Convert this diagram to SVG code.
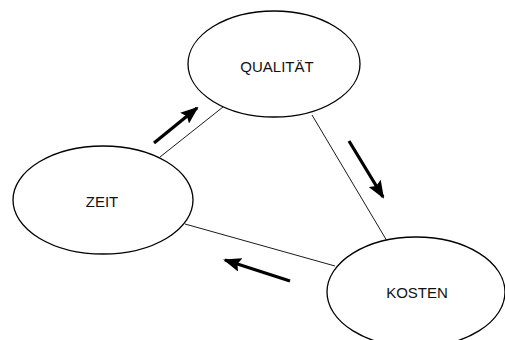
<svg xmlns="http://www.w3.org/2000/svg" width="505" height="340" viewBox="0 0 505 340">
<style>
.node{fill:#fff;stroke:#000;stroke-width:1.3}
.lbl{font-family:"Liberation Sans",Arial,sans-serif;font-size:15px;fill:#111;text-anchor:middle}
.edge{stroke:#000;stroke-width:0.9;fill:none}
.arr{stroke:#000;stroke-width:3.2;fill:none}
</style>
<defs>
<marker id="ah" markerUnits="userSpaceOnUse" markerWidth="18" markerHeight="14" refX="16" refY="7" orient="auto" viewBox="0 0 18 14">
<polygon points="0,0 18,7 0,14 3,7" fill="#000"/>
</marker>
</defs>
<rect width="505" height="340" fill="#fff"/>
<g id="connectors">
<line class="edge" x1="160" y1="157" x2="223" y2="107"/>
<line class="edge" x1="312" y1="115" x2="387" y2="241"/>
<line class="edge" x1="185" y1="224" x2="335" y2="266"/>
<line class="arr" x1="154" y1="143" x2="197" y2="108" marker-end="url(#ah)"/>
<line class="arr" x1="349" y1="141" x2="383" y2="197" marker-end="url(#ah)"/>
<line class="arr" x1="290" y1="281" x2="225" y2="260" marker-end="url(#ah)"/>
</g>
<g id="qualitaet">
<ellipse class="node" cx="274" cy="64" rx="86" ry="53"/>
<text class="lbl" x="277" y="72">QUALITÄT</text>
</g>
<g id="zeit">
<ellipse class="node" cx="103" cy="200" rx="90" ry="54"/>
<text class="lbl" x="102" y="207">ZEIT</text>
</g>
<g id="kosten">
<ellipse class="node" cx="416" cy="292" rx="89" ry="55"/>
<text class="lbl" x="417" y="298">KOSTEN</text>
</g>
</svg>
